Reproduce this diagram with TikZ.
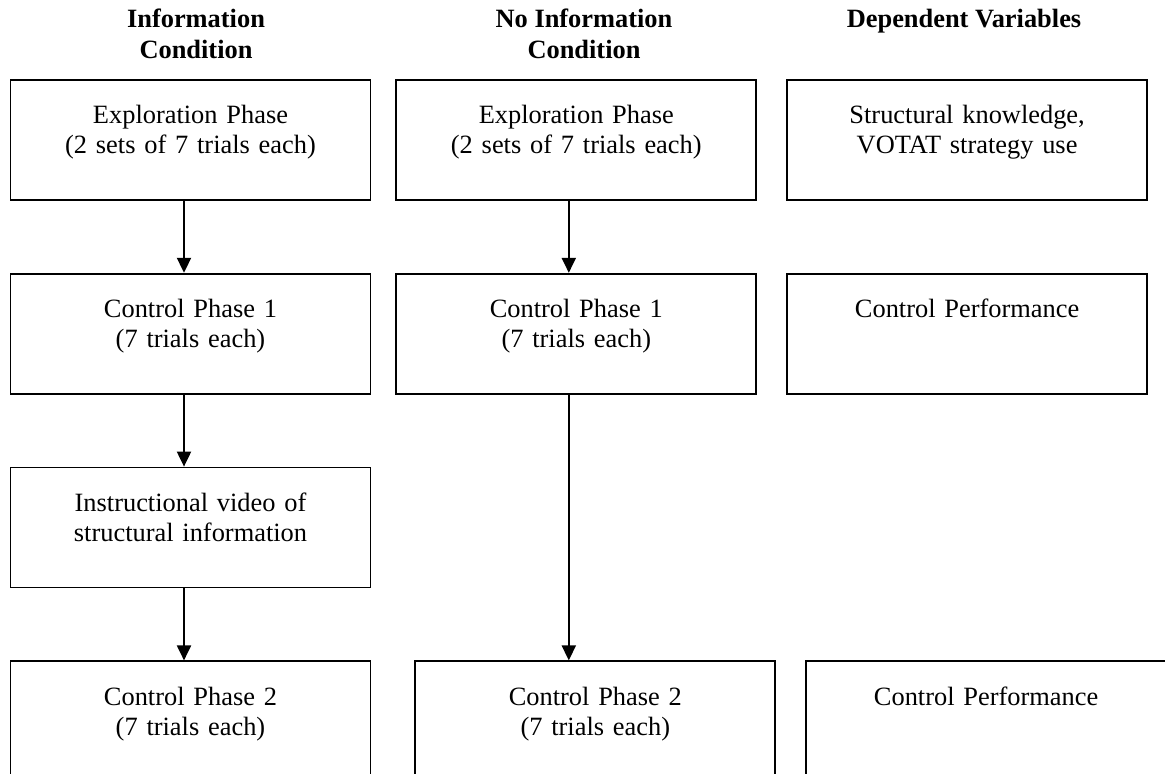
\documentclass[tikz,border=0pt]{standalone}
\usepackage{fontspec}
\setmainfont{Liberation Serif}
\usetikzlibrary{positioning,arrows.meta}

\begin{document}
\begin{tikzpicture}[x=0.5pt,y=-0.5pt,node distance=36pt,
    every node/.style={font=\fontsize{13.2}{15}\selectfont},
    phase/.style={draw,line width=0.9pt,anchor=north,text width=180pt,align=center,inner xsep=0pt,inner ysep=0pt,text height=22pt,text depth=38pt},
    head/.style={font=\fontsize{13.2}{15.5}\selectfont\bfseries,align=center,anchor=base},
    flow/.style={line width=1pt,-{Triangle[length=7.5pt,width=7pt]}}]
    \useasboundingbox (0,0) rectangle (1165,773);
    \clip (0,0) rectangle (1165,773);

    % column headers
    \node[head] (hi) at (196,58) {Information\\Condition};
    \node[head] (hn) at (584,58) {No Information\\Condition};
    \node[head] (hd) at (964,27) {Dependent Variables};

    % information condition
    \node[phase] (ie) at (190.5,79) {Exploration Phase\\(2 sets of 7 trials each)};
    \node[phase] (ic1) [below=of ie] {Control Phase 1\\(7 trials each)};
    \node[phase] (iv) [below=of ic1] {Instructional video of\\structural information};
    \node[phase] (ic2) [below=of iv] {Control Phase 2\\(7 trials each)};

    % no information condition
    \node[phase] (ne) [right=12pt of ie] {Exploration Phase\\(2 sets of 7 trials each)};
    \node[phase] (nc1) [below=of ne] {Control Phase 1\\(7 trials each)};
    \node[phase] (nc2) [right=21.5pt of ic2] {Control Phase 2\\(7 trials each)};

    % dependent variables
    \node[phase] (ds) [right=14.5pt of ne] {Structural knowledge,\\VOTAT strategy use};
    \node[phase] (dc1) [below=of ds] {Control Performance};
    \node[phase] (dc2) [right=14.5pt of nc2] {Control Performance};

    \draw[flow] ([xshift=-3.25pt]ie.south) -- ([xshift=-3.25pt]ic1.north);
    \draw[flow] ([xshift=-3.25pt]ic1.south) -- ([xshift=-3.25pt]iv.north);
    \draw[flow] ([xshift=-3.25pt]iv.south) -- ([xshift=-3.25pt]ic2.north);
    \draw[flow] ([xshift=-3.75pt]ne.south) -- ([xshift=-3.75pt]nc1.north);
    \draw[flow] ([xshift=-3.75pt]nc1.south) -- ([xshift=-3.75pt]nc1.south |- nc2.north);
\end{tikzpicture}
\end{document}
